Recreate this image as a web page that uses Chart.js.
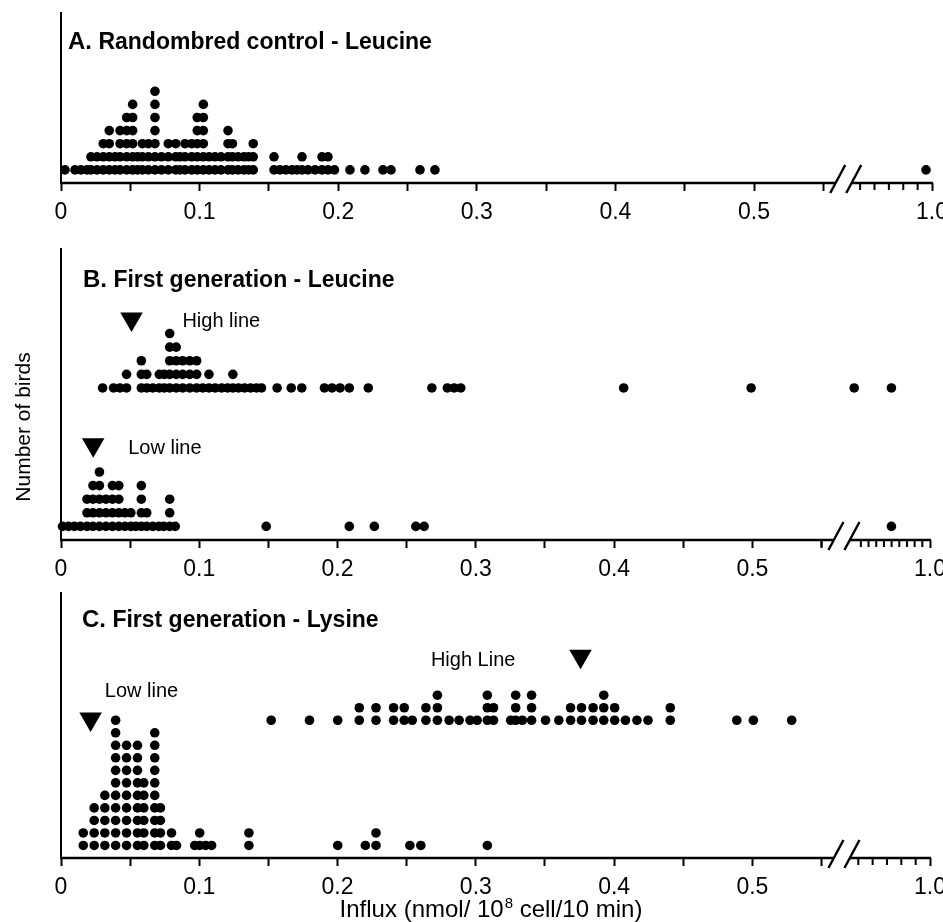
<!DOCTYPE html>
<html><head><meta charset="utf-8">
<script src="https://cdn.jsdelivr.net/npm/chart.js@4.4.0/dist/chart.umd.min.js"></script>
<style>
html,body{margin:0;padding:0;background:#fff;}
#wrap{position:relative;width:943px;height:922px;overflow:hidden;background:#fff;}
canvas{position:absolute;left:0;}
</style></head><body>
<div id="wrap">
<canvas id="cA" width="943" height="230" style="top:0px"></canvas>
<canvas id="cB" width="943" height="350" style="top:230px"></canvas>
<canvas id="cC" width="943" height="342" style="top:580px"></canvas>
</div>
<script>
// ---------- tick labels ----------
const tickValues = [0,0.05,0.1,0.15,0.2,0.25,0.3,0.35,0.4,0.45,0.5,0.55,1.0];
const tickLabels = ['0','','0.1','','0.2','','0.3','','0.4','','0.5','','1.0'];
const breakTicksAC = [0.58,0.664,0.748,0.832,0.916];
const breakTicksB = [0.55,0.595,0.64,0.685,0.73,0.775,0.82,0.865,0.91,0.955];

// ---------- panel A: randombred control, leucine (column value, birds in column) ----------
const aX = [0.0029,0.0101,0.0144,0.0188,0.0216,0.0260,0.0305,0.0348,0.0390,0.0426,0.0474,0.0517,0.0552,0.0587,0.0630,0.0678,0.0725,0.0774,0.0828,0.0859,0.0895,0.0943,0.0983,0.1027,0.1068,0.1111,0.1154,0.1205,0.1237,0.1277,0.1320,0.1353,0.1387,0.1537,0.1580,0.1623,0.1667,0.1703,0.1739,0.1782,0.1833,0.1883,0.1926,0.1973,0.2085,0.2193,0.2323,0.2381,0.2590,0.2698,0.965];
const aN = [1,1,1,1,2,2,3,4,2,4,5,6,2,3,3,7,2,3,3,2,3,3,5,6,2,2,2,4,3,2,2,2,3,2,1,1,1,1,2,1,1,2,2,1,1,1,1,1,1,1,1];

// ---------- panel B: first generation, leucine ----------
const bHighX = [0.0301,0.0380,0.0426,0.0474,0.0581,0.0620,0.0664,0.0711,0.0747,0.0786,0.0833,0.0880,0.0931,0.0981,0.1025,0.1070,0.1115,0.1162,0.1205,0.1243,0.1284,0.1328,0.1371,0.1414,0.1450,0.1563,0.1665,0.1741,0.1905,0.1960,0.2018,0.2085,0.2222,0.2682,0.2794,0.2843,0.2891,0.4069,0.4991,0.556,0.774];
const bHighN = [1,1,1,2,3,2,1,2,2,5,4,3,3,3,1,2,1,1,1,2,1,1,1,1,1,1,1,1,1,1,1,1,1,1,1,1,1,1,1,1,1];
const bLowX = [0.0011,0.0054,0.0097,0.0141,0.0188,0.0231,0.0278,0.0325,0.0372,0.0418,0.0462,0.0505,0.0541,0.0581,0.0620,0.0664,0.0707,0.0743,0.0786,0.0826,0.1484,0.2085,0.2266,0.2566,0.2626,0.774];
const bLowN = [1,1,1,1,3,4,5,3,4,4,2,2,1,4,2,1,1,1,3,1,1,1,1,1,1,1];
const bMarkX = [0.051,0.0233];   // line means (triangles)
const bMarkY = [16.25,7.01];

// ---------- panel C: first generation, lysine ----------
const cLowX = [0.0161,0.0240,0.0317,0.0395,0.0474,0.0553,0.0599,0.0678,0.0719,0.0799,0.0835,0.0967,0.1003,0.1046,0.1089,0.1359,0.2001,0.2201,0.2278,0.2523,0.2602,0.3083];
const cLowN = [2,4,5,11,9,9,6,10,4,2,1,1,2,1,1,2,1,1,2,1,1,1];
const cHighX = [0.1520,0.1797,0.2001,0.2157,0.2278,0.2405,0.2482,0.2540,0.2639,0.2722,0.2807,0.2879,0.2958,0.3009,0.3083,0.3128,0.3252,0.3288,0.3336,0.3403,0.3504,0.3600,0.3685,0.3764,0.3848,0.3925,0.4004,0.4082,0.4165,0.4245,0.4406,0.4887,0.5007,0.5284];
const cHighN = [1,1,1,2,2,2,2,1,2,3,1,1,1,1,3,2,1,3,1,3,1,1,2,2,2,3,2,1,1,1,2,1,1,1];
const cMarkX = [0.0214,0.3757];
const cMarkY = [11.1,16.12];

// ---------- broken x scale ----------
const PRE_END = 0.555, POST_MIN = 0.55;
const PRE_K = 1386/871;          // decimal of axis length per unit before the break
const POST_D0 = (855-61)/871;    // decimal where the compressed part starts
class BrokenScale extends Chart.LinearScale {
  static id = 'broken';
  static defaults = {};
  toDecimal(v){ return v <= PRE_END ? v*PRE_K : POST_D0 + (v-POST_MIN)/(1-POST_MIN)*(1-POST_D0); }
  getPixelForValue(v){ if (v===null||v===undefined||isNaN(v)) return NaN; return this.getPixelForDecimal(this.toDecimal(v)); }
  getValueForPixel(p){ const d=this.getDecimalForPixel(p); return d <= PRE_END*PRE_K ? d/PRE_K : POST_MIN+(d-POST_D0)/(1-POST_D0)*(1-POST_MIN); }
  getPadding(){ return {left:0,right:0,top:0,bottom:0}; }
}
Chart.register(BrokenScale);

const FONT = '"Liberation Sans", Arial, Helvetica, sans-serif';

function stack(xs, ns, base){
  const pts = [];
  xs.forEach((x,i)=>{ for(let k=1;k<=ns[i];k++) pts.push({x:x, y:base+k}); });
  return pts;
}
function dots(pts){
  return {type:'scatter', data:pts, pointRadius:4.8, pointHoverRadius:4.8, pointBackgroundColor:'#000', pointBorderWidth:0, clip:false};
}
function tris(xs, ys){
  return {type:'scatter', data:xs.map((x,i)=>({x:x,y:ys[i]})), pointStyle:'triangle', pointRotation:180, pointRadius:13, pointHoverRadius:13, pointBackgroundColor:'#000', pointBorderWidth:0, clip:false};
}

function makeChart(id, cfg){
  const deco = {
    id:'deco',
    afterDraw(chart){
      const ctx = chart.ctx, xs = chart.scales.x, ys = chart.scales.y, ca = chart.chartArea, y0 = ca.bottom;
      ctx.save();
      ctx.strokeStyle = '#000'; ctx.fillStyle = '#000';
      const xb = xs.getPixelForValue(PRE_END);
      ctx.lineWidth = 2.5;
      ctx.beginPath();
      ctx.moveTo(ca.left-1, y0); ctx.lineTo(xb+5, y0);
      ctx.moveTo(xb+21, y0); ctx.lineTo(ca.right+1, y0);
      ctx.stroke();
      ctx.lineWidth = 2.4;
      ctx.beginPath();
      ctx.moveTo(xb, y0+10); ctx.lineTo(xb+15, y0-18);
      ctx.moveTo(xb+16, y0+10); ctx.lineTo(xb+31, y0-18);
      ctx.stroke();
      ctx.lineWidth = 2;
      ctx.beginPath();
      cfg.breakTicks.forEach(v=>{ const p = xs.getPixelForValue(v); ctx.moveTo(p, y0); ctx.lineTo(p, y0+7); });
      ctx.stroke();
      // panel title
      ctx.textBaseline = 'alphabetic'; ctx.textAlign = 'left';
      ctx.font = 'bold 24px ' + FONT;
      ctx.fillText(cfg.title[0], cfg.titlePos[0], cfg.titlePos[1]);
      const w = ctx.measureText(cfg.title[0]).width;
      ctx.font = 'bold 23px ' + FONT;
      ctx.fillText(cfg.title[1], cfg.titlePos[0] + w, cfg.titlePos[1]);
      // annotations
      ctx.font = '20px ' + FONT;
      (cfg.notes||[]).forEach(n=>{ ctx.fillText(n.text, xs.getPixelForValue(n.x), ys.getPixelForValue(n.y)); });
      if (cfg.extra) cfg.extra(ctx, chart);
      ctx.restore();
    }
  };
  return new Chart(document.getElementById(id), {
    data:{datasets:cfg.datasets},
    options:{
      responsive:false, maintainAspectRatio:false, animation:false, devicePixelRatio:1,
      layout:{padding:{left:61, right:11, top:cfg.padTop, bottom:0}},
      plugins:{legend:{display:false}, tooltip:{enabled:false}},
      events:[],
      scales:{
        x:{type:'broken', min:0, max:1,
           afterBuildTicks:s=>{ s.ticks = tickValues.map(v=>({value:v})); },
           afterFit:s=>{ s.height = cfg.xHeight; },
           ticks:{autoSkip:false, maxRotation:0, minRotation:0, padding:8, color:'#000', font:{family:FONT, size:23},
                  callback:(v,i)=>tickLabels[i]},
           grid:{display:true, drawOnChartArea:false, drawTicks:true, tickLength:8, tickWidth:2, tickColor:'#000', color:'#000'},
           border:{display:false}},
        y:{type:'linear', min:0, max:cfg.ymax,
           afterFit:s=>{ s.width = 0; },
           ticks:{display:false},
           grid:{display:true, drawOnChartArea:false, drawTicks:false},
           border:{display:true, color:'#000', width:2}}
      }
    },
    plugins:[deco]
  });
}

makeChart('cA', {
  padTop:13, xHeight:47, ymax:170/13.1, breakTicks:breakTicksAC,
  title:['A.',' Randombred control - Leucine'], titlePos:[68,49],
  datasets:[dots(stack(aX,aN,0))]
});

makeChart('cB', {
  padTop:19, xHeight:40, ymax:291/13.6, breakTicks:breakTicksB,
  title:['B.',' First generation - Leucine'], titlePos:[83,57],
  datasets:[dots(stack(bHighX,bHighN,10.18)), dots(stack(bLowX,bLowN,0)), tris(bMarkX,bMarkY)],
  notes:[{text:'High line', x:0.0878, y:15.68},{text:'Low line', x:0.0486, y:6.30}],
  extra:(ctx)=>{
    ctx.save();
    ctx.translate(24, 197); ctx.rotate(-Math.PI/2);
    ctx.font = '21px ' + FONT; ctx.textAlign = 'center'; ctx.textBaseline = 'middle';
    ctx.fillText('Number of birds', 0, 0);
    ctx.restore();
  }
});

makeChart('cC', {
  padTop:5, xHeight:64, ymax:273/12.9, breakTicks:breakTicksAC,
  title:['C.',' First generation - Lysine'], titlePos:[82,47],
  datasets:[dots(stack(cLowX,cLowN,0)), dots(stack(cHighX,cHighN,10)), tris(cMarkX,cMarkY)],
  notes:[{text:'Low line', x:0.0317, y:12.89},{text:'High Line', x:0.2675, y:15.3}],
  extra:(ctx)=>{
    const a = 'Influx (nmol/ 10', s = '8', b = ' cell/10 min)';
    ctx.font = '24px ' + FONT; const wa = ctx.measureText(a).width, wb = ctx.measureText(b).width;
    ctx.font = '15px ' + FONT; const ws = ctx.measureText(s).width;
    const x0 = 490.5 - (wa+ws+wb)/2, yb = 337;
    ctx.textAlign = 'left'; ctx.textBaseline = 'alphabetic';
    ctx.font = '24px ' + FONT; ctx.fillText(a, x0, yb);
    ctx.font = '15px ' + FONT; ctx.fillText(s, x0+wa+1, yb-9);
    ctx.font = '24px ' + FONT; ctx.fillText(b, x0+wa+ws+1, yb);
  }
});
</script>
</body></html>
